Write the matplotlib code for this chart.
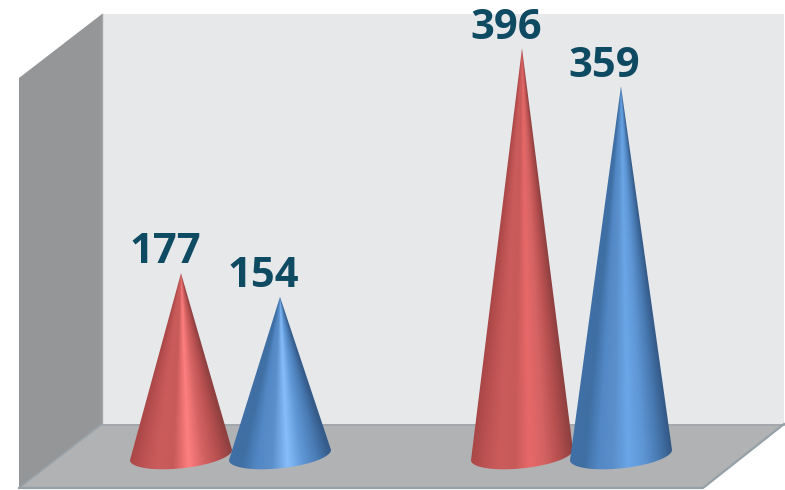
import matplotlib
matplotlib.use('Agg')
import matplotlib.pyplot as plt
from matplotlib.colors import LinearSegmentedColormap
from matplotlib.patches import Polygon
import numpy as np

# values
group_slots = [0, 1]
series_a = [177, 396]
series_b = [154, 359]

RED_STOPS = ['#a84646', '#bd5252', '#cc5c5c', '#c85a5a', '#ff7f7f', '#d56363', '#b85050', '#8f4040']
BLUE_STOPS = ['#3f6fa6', '#3f6fa3', '#5288c6', '#5a8fcb', '#86bdfb', '#5f97d6', '#4a7cb5', '#345a88']
RED_PEAKS = ['#ff7f7f', '#e86868']
BLUE_PEAKS = ['#86bdfb', '#6aa6e8']
TEXT_COLOR = '#0f4a63'


def to_x(slot, offset):
    return 230 + slot * 341 + offset


def draw_cone(ax, cx, value, stops, peak, half_w=51, base_v=0, ell_v=13, tilt=5):
    """cone with shading that follows the surface up to the tip, base is a tilted ellipse"""
    t = np.linspace(np.pi, 2 * np.pi, 80)
    outline = [(cx, value)]
    outline += list(zip(cx + half_w * np.cos(t), base_v + ell_v * np.sin(t) + tilt * np.cos(t)))
    cone = Polygon(outline, closed=True, fc='none', ec='none', zorder=3)
    ax.add_patch(cone)

    # normalised position across the cone for every pixel
    xs = np.linspace(cx - half_w, cx + half_w, 220)
    ys = np.linspace(base_v - ell_v - 6, value, 500)
    xx, yy = np.meshgrid(xs, ys)
    widths = half_w * np.clip((value - yy) / (value - base_v), 0.002, 1.3)
    u = np.clip((xx - cx) / widths, -1, 1)
    colors = list(stops)
    colors[4] = peak
    cmap = LinearSegmentedColormap.from_list('cone', colors)
    im = ax.imshow((u + 1) / 2, cmap=cmap, vmin=0, vmax=1, origin='lower', aspect='auto',
                   extent=(xs[0], xs[-1], ys[0], ys[-1]), zorder=3, interpolation='bilinear')
    im.set_clip_path(cone)


fig = plt.figure(figsize=(7.85, 4.9), dpi=100, facecolor='white')

# room behind the cones, in pixels of the picture
room = fig.add_axes([0, 0, 1, 1])
room.set_xlim(0, 785)
room.set_ylim(490, 0)
room.axis('off')
room.add_patch(Polygon([(102, 14), (784, 14), (784, 424), (102, 424)], fc='#e7e8ea', ec='none'))
room.add_patch(Polygon([(19, 78), (102, 14), (102, 424), (19, 488)], fc='#959698', ec='none'))
room.add_patch(Polygon([(102, 424), (784, 424), (703, 488), (19, 488)], fc='#b1b2b4', ec='none'))
room.plot([102, 784], [424.5, 424.5], color='#a3a8ac', lw=1.3)
room.plot([19, 703, 784], [488, 488, 424], color='#95a0a7', lw=1.6)
room.plot([102, 102], [14, 424], color='#a5a6a8', lw=1)
room.plot([19, 102], [488, 424], color='#9aa3a9', lw=1.2)

# value scale on top of it
ax = fig.add_axes([0, 0, 1, 1])
ax.patch.set_alpha(0)
ax.axis('off')

for i, (slot, a, b) in enumerate(zip(group_slots, series_a, series_b)):
    draw_cone(ax, to_x(slot, -49), a, RED_STOPS, RED_PEAKS[i])
    draw_cone(ax, to_x(slot, 50), b, BLUE_STOPS, BLUE_PEAKS[i])
    ax.text(to_x(slot, -65), a + 9.5, str(a), ha='center', va='baseline', fontsize=30,
            fontweight='bold', family='Open Sans', color=TEXT_COLOR, zorder=5)
    ax.text(to_x(slot, 33), b + 9.5, str(b), ha='center', va='baseline', fontsize=30,
            fontweight='bold', family='Open Sans', color=TEXT_COLOR, zorder=5)

ax.set_xlim(0, 785)
ax.set_ylim(-34.08, 443.0)

fig.savefig('out.png', dpi=100)
